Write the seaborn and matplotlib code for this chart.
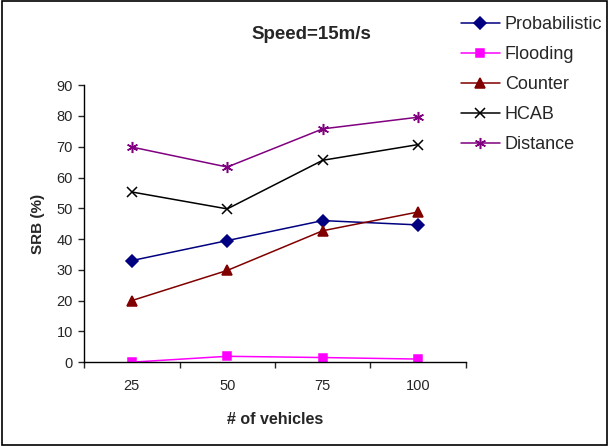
import pandas as pd
import matplotlib
matplotlib.use("Agg")
import matplotlib.pyplot as plt
import seaborn as sns
from matplotlib.patches import Rectangle

# Data
vehicles = ["25", "50", "75", "100"]
probabilistic = [33.0, 39.5, 46.0, 44.6]
flooding = [0.0, 1.9, 1.5, 1.0]
counter = [20.0, 29.8, 42.7, 48.8]
hcab = [55.3, 49.8, 65.6, 70.7]
distance = [69.9, 63.4, 75.8, 79.6]

series_names = ["Probabilistic", "Flooding", "Counter", "HCAB", "Distance"]
series_values = [probabilistic, flooding, counter, hcab, distance]
series_colors = ["#000080", "#FF00FF", "#800000", "#000000", "#800080"]
series_markers = ["D", "s", "^", "x", (6, 2, 0)]
marker_sizes = [6, 6, 7, 7, 8]

sns.set_style("white")
plt.rcParams["font.family"] = ["Liberation Sans", "DejaVu Sans"]

fig = plt.figure(figsize=(6.09, 4.46), dpi=100)
ax = fig.add_axes([0.138, 0.188, 0.627, 0.621])

# One seaborn call per series (filled and line-art markers can't be mixed in one call)
for name, vals, color, marker, ms in zip(series_names, series_values, series_colors,
                                         series_markers, marker_sizes):
    df = pd.DataFrame({"vehicles": vehicles, "SRB": vals})
    sns.lineplot(
        data=df, x="vehicles", y="SRB", color=color, marker=marker,
        markersize=ms, linewidth=1.1, markeredgewidth=1.1,
        markeredgecolor=color, label=name, ax=ax, sort=False,
    )

# Axis limits and ticks (category axis with ticks between categories)
ax.set_xlim(-0.5, 3.5)
ax.set_ylim(0, 90)
ax.set_yticks(range(0, 91, 10))
ax.set_xticks([0, 1, 2, 3])
ax.set_xticklabels(vehicles)
ax.set_xticks([-0.5, 0.5, 1.5, 2.5, 3.5], minor=True)
ax.tick_params(axis="x", which="major", length=0, pad=12, labelsize=10.5)
ax.tick_params(axis="x", which="minor", length=4, width=1, direction="out", bottom=True)
ax.tick_params(axis="y", which="major", length=4, width=1, direction="out", left=True,
               labelsize=10.5, pad=4)

for side in ["top", "right"]:
    ax.spines[side].set_visible(False)
for side in ["left", "bottom"]:
    ax.spines[side].set_color("black")
    ax.spines[side].set_linewidth(1)

ax.set_xlabel("# of vehicles", fontsize=11.5, fontweight="bold", labelpad=14)
ax.set_ylabel("SRB (%)", fontsize=11, fontweight="bold", labelpad=8)
fig.text(0.511, 0.922, "Speed=15m/s", fontsize=13.5, fontweight="bold",
         ha="center", va="center")

# Legend outside to the upper right
handles, labels = ax.get_legend_handles_labels()
ax.legend_.remove()
fig.legend(
    handles, labels, loc="upper left", bbox_to_anchor=(0.757, 0.964),
    frameon=False, fontsize=13, handlelength=2.15, handletextpad=0.28,
    labelspacing=0.72, borderaxespad=0, borderpad=0,
)

# Outer border around the whole chart
fig.patches.append(Rectangle((0.003, 0.003), 0.994, 0.994, transform=fig.transFigure,
                             fill=False, edgecolor="black", linewidth=1.2))

fig.savefig("out.png", dpi=100)
